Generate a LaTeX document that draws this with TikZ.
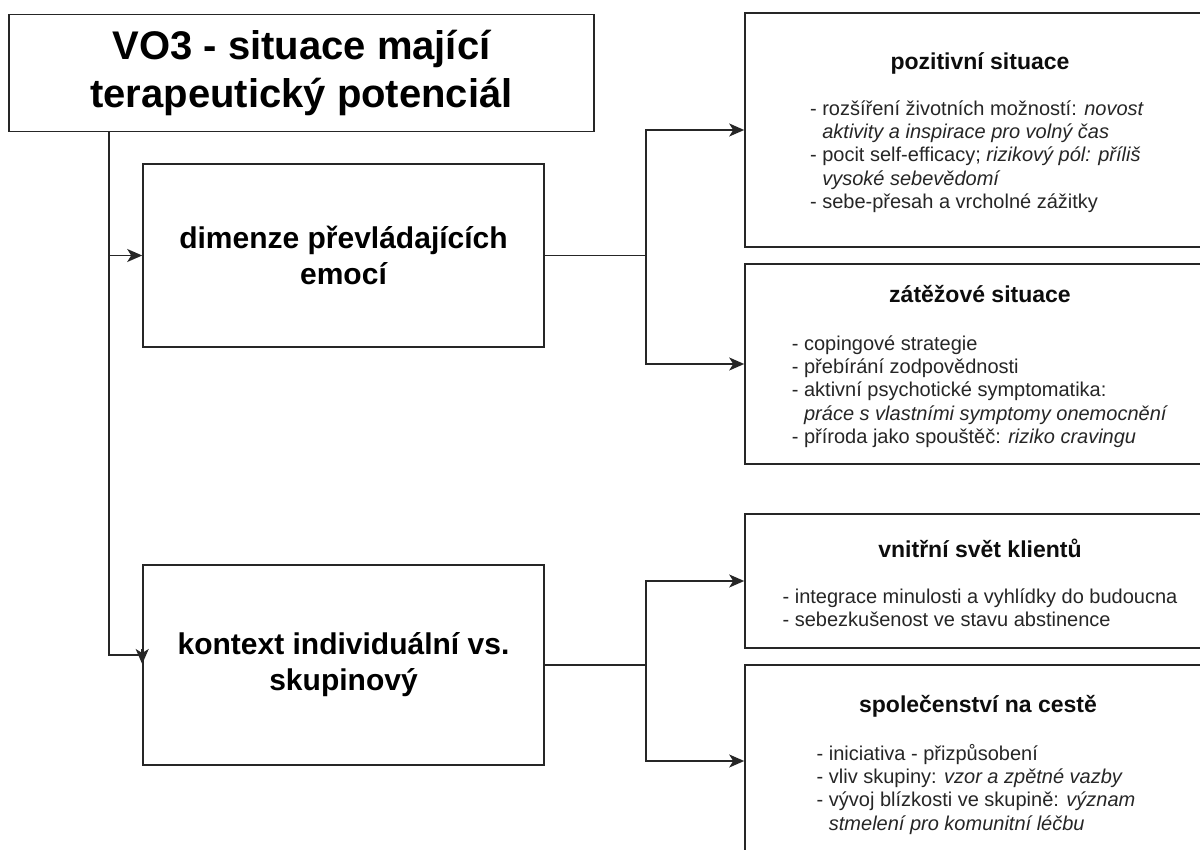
\documentclass[tikz,border=0pt]{standalone}
\usepackage{fontspec}
\setmainfont{Liberation Sans}
\usetikzlibrary{arrows.meta}

\begin{document}
\begin{tikzpicture}[x=1pt,y=-1pt,
  box/.style={draw=black!85, line width=1.6pt, rectangle, inner sep=0pt, fill=white},
  mainbox/.style={box, align=center, text=black,
    font=\bfseries\fontsize{30}{36}\selectfont},
  topbox/.style={box, align=center, text=black,
    font=\bfseries\fontsize{40}{48}\selectfont},
  sidebox/.style={box, minimum width=470pt},
  heading/.style={anchor=base, inner sep=0pt, text=black!95,
    font=\bfseries\fontsize{23}{27}\selectfont},
  itemlist/.style={anchor=north, inner sep=0pt, align=left, text=black!85,
    font=\fontsize{20}{23.3}\selectfont},
  link/.style={draw=black!85, line width=1.6pt},
  arr/.style={link, -{Stealth[length=15pt, width=13pt, inset=4pt]}}
]
\newcommand{\firstline}{\rule{0pt}{17pt}}
\newcommand{\hang}{\hphantom{- }}

\path[use as bounding box] (0,0) rectangle (1200,850);
\clip (0,0) rectangle (1200,850);
\fill[white] (0,0) rectangle (1200,850);

% left column
\node[topbox, minimum width=585pt, minimum height=117pt] (title) at (301.5,73)
  {VO3 - situace mající\\terapeutický potenciál};
\node[mainbox, minimum width=401pt, minimum height=183pt] (dim) at (343.5,255.5)
  {dimenze převládajících\\emocí};
\node[mainbox, minimum width=401pt, minimum height=200pt] (ctx) at (343.5,665)
  {kontext individuální vs.\\skupinový};

% right column boxes
\node[sidebox, minimum height=234pt] (pos) at (980,130) {};
\node[sidebox, minimum height=200pt] (zat) at (980,364) {};
\node[sidebox, minimum height=134pt] (vnit) at (980,581) {};
\node[sidebox, minimum height=192pt] (spol) at (980,761) {};

% box contents
\node[heading] (posH) at (980,70) {pozitivní situace};
\node[itemlist] (posB) at (977,98) {\firstline- rozšíření životních možností: \textit{novost}\\
  \hang\textit{aktivity a inspirace pro volný čas}\\
  - pocit self-efficacy; \textit{rizikový pól: příliš}\\
  \hang\textit{vysoké sebevědomí}\\
  - sebe-přesah a vrcholné zážitky};

\node[heading] (zatH) at (980,303) {zátěžové situace};
\node[itemlist] (zatB) at (980,333) {\firstline- copingové strategie\\
  - přebírání zodpovědnosti\\
  - aktivní psychotické symptomatika:\\
  \hang\textit{práce s vlastními symptomy onemocnění}\\
  - příroda jako spouštěč: \textit{riziko cravingu}};

\node[heading] (vnitH) at (980,557) {vnitřní svět klientů};
\node[itemlist] (vnitB) at (980,586) {\firstline- integrace minulosti a vyhlídky do budoucna\\
  - sebezkušenost ve stavu abstinence};

\node[heading] (spolH) at (978,712) {společenství na cestě};
\node[itemlist] (spolB) at (976,743) {\firstline- iniciativa - přizpůsobení\\
  - vliv skupiny: \textit{vzor a zpětné vazby}\\
  - vývoj blízkosti ve skupině: \textit{význam}\\
  \hang\textit{stmelení pro komunitní léčbu}};

% connectors from the title
\coordinate (trunk) at ([xshift=101pt]title.south west);
\draw[arr] (trunk) |- (dim.west);
\draw[link] (trunk) |- ([yshift=10pt]ctx.west);
\draw[arr] ([yshift=16pt]ctx.west) -- ([yshift=1pt]ctx.west);

% upper branch
\draw[link] (dim.east) -- ++(101,0) coordinate (fork1);
\draw[arr] (fork1) |- (pos.west);
\draw[arr] (fork1) |- (zat.west);

% lower branch
\draw[link] (ctx.east) -- ++(101,0) coordinate (fork2);
\draw[arr] (fork2) |- (vnit.west);
\draw[arr] (fork2) |- (spol.west);
\end{tikzpicture}
\end{document}
